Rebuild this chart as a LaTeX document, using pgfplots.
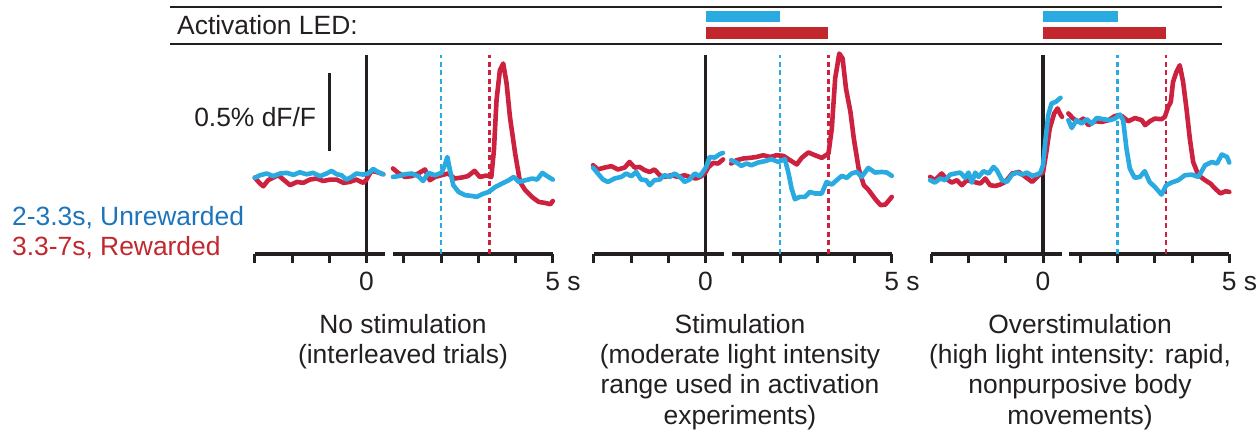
\documentclass[border=0pt]{standalone}
\usepackage{fontspec}
\setmainfont{Liberation Sans}
\usepackage{pgfplots}
\pgfplotsset{compat=1.18}
\definecolor{cblue}{HTML}{29ABE2}
\definecolor{cred}{HTML}{CC2240}
\definecolor{tblue}{HTML}{1C75BC}
\definecolor{tred}{HTML}{C1272D}
\definecolor{barred}{HTML}{C1272D}
\definecolor{axc}{HTML}{231F20}
\newcommand{\fs}{\fontsize{26.5}{30}\selectfont}
\pgfplotsset{
  panel/.style={x=37.25bp, y=156bp, ymin=-0.505, ymax=0.79,
    axis x line*=bottom, axis y line=none, clip=false,
    tick align=outside, major tick length=9bp,
    xtick style={line width=3bp, color=axc},
    axis line style={line width=3.2bp, color=axc},
    anchor=south west, ytick=\empty,
    xticklabel style={font=\fs, text=axc, inner sep=0pt, yshift=-9bp},
  },
  lefts/.style={panel, xmin=-3, xmax=0.5, xtick={-3,-2,-1,0}, xticklabels={,,,0}},
  rights/.style={panel, xmin=0.7, xmax=5, xtick={1,2,3,4,5}, xticklabels={,,,,5\rlap{ s}}},
  tr/.style={line width=4.6bp, line join=round, line cap=round},
  rtr/.style={tr, color=cred},
  btr/.style={tr, color=cblue},
  zline/.style={line width=3.2bp, color=axc},
  bdash/.style={line width=2.4bp, color=cblue, dash pattern=on 5bp off 3.5bp},
  rdash/.style={line width=2.4bp, color=cred, dash pattern=on 5bp off 3.5bp},
}
\begin{document}
\begin{tikzpicture}
\path[use as bounding box] (0bp,0bp) rectangle (1260bp,436bp);
% header
\draw[line width=2.4bp, color=axc] (170bp,429bp) -- (1222bp,429bp);
\draw[line width=2.4bp, color=axc] (170bp,392bp) -- (1222bp,392bp);
\node[anchor=base west, inner sep=0pt, font=\fs, text=axc] at (177bp,401.5bp) {Activation LED:};
% legend text
\node[anchor=base west, inner sep=0pt, font=\fs, text=tblue] at (12bp,210.5bp) {2-3.3s, Unrewarded};
\node[anchor=base west, inner sep=0pt, font=\fs, text=tred] at (12bp,180.5bp) {3.3-7s, Rewarded};

%%%%%%%% Panel 1
\begin{axis}[lefts, at={(254.75bp,182bp)}]
\addplot[zline] coordinates {(0,-0.505) (0,0.77)};
\addplot[line width=3bp, color=axc] coordinates {(-1,0.154) (-1,0.654)};
\node[anchor=base east, inner sep=0pt, font=\fs, text=axc, xshift=-13bp] at (axis cs:-1,0.311) {0.5\% dF/F};
\addplot[rtr] coordinates {(-3.0,-0.015) (-2.86,-0.053) (-2.77,-0.071) (-2.64,-0.032) (-2.50,-0.015) (-2.37,0) (-2.23,-0.028) (-2.05,-0.064) (-1.87,-0.043) (-1.70,-0.049) (-1.52,-0.028) (-1.34,-0.021) (-1.16,-0.037) (-0.98,-0.028) (-0.80,-0.028) (-0.62,-0.049) (-0.45,-0.043) (-0.27,-0.028) (-0.09,-0.049) (0.0,-0.028) (0.13,0.028) (0.27,0.021) (0.45,0.006)};
\addplot[btr] coordinates {(-3.0,-0.017) (-2.86,0) (-2.68,0.011) (-2.50,-0.006) (-2.32,0.011) (-2.14,0.015) (-1.96,0.002) (-1.79,0.019) (-1.61,0.006) (-1.43,0.015) (-1.25,-0.006) (-1.07,0.011) (-0.94,0.028) (-0.80,0.006) (-0.67,0) (-0.54,-0.028) (-0.40,-0.011) (-0.27,0.011) (-0.09,0.004) (0.04,0.011) (0.18,0.040) (0.31,0.021) (0.45,0.006)};
\end{axis}
\begin{axis}[rights, at={(392.6bp,182bp)}]
\addplot[bdash] coordinates {(2,-0.505) (2,0.77)};
\addplot[rdash] coordinates {(3.3,-0.505) (3.3,0.77)};
\addplot[rtr] coordinates {(0.71,0.043) (0.85,0.015) (1.03,-0.011) (1.21,-0.006) (1.39,0.011) (1.57,0.037) (1.70,-0.032) (1.84,-0.011) (2.01,0) (2.19,0.011) (2.37,-0.021) (2.55,-0.015) (2.72,-0.006) (2.90,0.028) (3.04,-0.011) (3.22,-0.002) (3.35,-0.011) (3.42,0.160) (3.49,0.481) (3.58,0.673) (3.67,0.716) (3.76,0.588) (3.85,0.374) (3.99,0.139) (4.12,-0.043) (4.26,-0.096) (4.44,-0.139) (4.62,-0.171) (4.80,-0.178) (4.94,-0.186) (5.0,-0.165)};
\addplot[btr] coordinates {(0.71,-0.011) (0.85,-0.006) (1.03,0.006) (1.21,0.011) (1.39,-0.006) (1.52,-0.037) (1.66,0.015) (1.84,0) (2.01,0.015) (2.10,0.064) (2.17,0.117) (2.24,0.032) (2.33,-0.064) (2.47,-0.107) (2.65,-0.128) (2.83,-0.133) (2.96,-0.139) (3.10,-0.122) (3.28,-0.107) (3.46,-0.075) (3.64,-0.053) (3.82,-0.032) (3.95,-0.011) (4.09,-0.043) (4.27,-0.032) (4.45,-0.021) (4.58,-0.028) (4.72,0.015) (4.85,-0.006) (5.0,-0.028)};
\end{axis}

%%%%%%%% Panel 2
\begin{axis}[lefts, at={(593.75bp,182bp)}]
\addplot[zline] coordinates {(0,-0.505) (0,0.77)};
\addplot[rtr] coordinates {(-3.02,0.064) (-2.89,0.037) (-2.71,0.049) (-2.53,0.058) (-2.35,0.037) (-2.17,0.049) (-2.04,0.085) (-1.90,0.049) (-1.77,0.053) (-1.63,0.032) (-1.50,0.021) (-1.37,0.037) (-1.23,0) (-1.10,-0.011) (-0.92,0) (-0.74,-0.011) (-0.56,0) (-0.38,-0.015) (-0.25,-0.021) (-0.11,-0.006) (-0.02,0.011) (0.07,0.049) (0.20,0.079) (0.34,0.075) (0.47,0.101)};
\addplot[btr] coordinates {(-3.02,0.049) (-2.89,0.011) (-2.75,-0.028) (-2.62,-0.043) (-2.44,-0.021) (-2.26,-0.011) (-2.13,0.011) (-1.99,-0.006) (-1.86,0.021) (-1.73,-0.028) (-1.59,-0.032) (-1.50,-0.064) (-1.37,-0.032) (-1.23,-0.028) (-1.10,0) (-0.96,-0.011) (-0.83,0.011) (-0.69,-0.011) (-0.56,-0.043) (-0.43,-0.028) (-0.29,0.011) (-0.16,-0.006) (-0.07,0.021) (0.02,0.053) (0.11,0.117) (0.25,0.113) (0.38,0.135) (0.47,0.143)};
\end{axis}
\begin{axis}[rights, at={(731.6bp,182bp)}]
\addplot[color=cblue, line width=11bp] coordinates {(0,1.016) (2,1.016)};
\addplot[color=barred, line width=12bp] coordinates {(0,0.910) (3.3,0.910)};
\addplot[bdash] coordinates {(2,-0.505) (2,0.77)};
\addplot[rdash] coordinates {(3.3,-0.505) (3.3,0.77)};
\addplot[rtr] coordinates {(0.69,0.075) (0.83,0.096) (1.01,0.107) (1.19,0.111) (1.37,0.117) (1.55,0.128) (1.73,0.117) (1.91,0.128) (2.09,0.124) (2.27,0.096) (2.45,0.069) (2.58,0.111) (2.76,0.146) (2.94,0.128) (3.12,0.111) (3.30,0.139) (3.39,0.299) (3.48,0.620) (3.59,0.780) (3.68,0.748) (3.77,0.556) (3.89,0.406) (3.98,0.236) (4.11,0.043) (4.25,-0.064) (4.38,-0.096) (4.56,-0.154) (4.70,-0.192) (4.83,-0.188) (5.0,-0.139)};
\addplot[btr] coordinates {(0.69,0.096) (0.83,0.081) (0.96,0.060) (1.10,0.075) (1.23,0.064) (1.41,0.081) (1.59,0.090) (1.77,0.103) (1.95,0.085) (2.13,0.103) (2.22,0.021) (2.31,-0.085) (2.40,-0.154) (2.53,-0.139) (2.67,-0.139) (2.80,-0.107) (2.94,-0.117) (3.12,-0.117) (3.25,-0.043) (3.39,-0.060) (3.52,-0.032) (3.66,-0.004) (3.79,-0.017) (3.92,0.011) (4.06,0.021) (4.19,-0.011) (4.37,0.047) (4.55,0.017) (4.73,0.021) (4.87,0.017) (5.0,-0.004)};
\end{axis}

%%%%%%%% Panel 3
\begin{axis}[lefts, at={(931.25bp,182bp)}]
\addplot[zline] coordinates {(0,-0.505) (0,0.77)};
\addplot[rtr] coordinates {(-3.03,-0.011) (-2.90,-0.032) (-2.72,0.011) (-2.58,-0.026) (-2.45,-0.047) (-2.31,-0.032) (-2.18,-0.064) (-2.04,-0.032) (-1.86,-0.043) (-1.68,-0.053) (-1.55,-0.021) (-1.42,-0.064) (-1.28,-0.069) (-1.15,-0.060) (-1.01,-0.043) (-0.83,0.011) (-0.65,0.021) (-0.47,-0.011) (-0.29,-0.043) (-0.11,0) (0.0,0.017) (0.09,0.149) (0.18,0.299) (0.30,0.396) (0.39,0.428) (0.47,0.389) (0.51,0.374)};
\addplot[btr] coordinates {(-3.03,-0.032) (-2.90,-0.047) (-2.76,-0.021) (-2.63,-0.032) (-2.49,0.004) (-2.36,0.011) (-2.22,0.017) (-2.09,-0.017) (-2.00,0.017) (-1.91,-0.047) (-1.82,0.017) (-1.73,-0.011) (-1.60,0.026) (-1.46,0.011) (-1.33,0.053) (-1.24,0.032) (-1.10,-0.032) (-0.97,-0.043) (-0.83,0.004) (-0.70,0.017) (-0.56,0.004) (-0.43,0.017) (-0.29,-0.004) (-0.16,0.004) (-0.07,0.017) (0.0,0.064) (0.07,0.235) (0.14,0.385) (0.23,0.460) (0.34,0.470) (0.47,0.496)};
\end{axis}
\begin{axis}[rights, at={(1069.1bp,182bp)}]
\addplot[color=cblue, line width=11bp] coordinates {(0,1.016) (2,1.016)};
\addplot[color=barred, line width=12bp] coordinates {(0,0.910) (3.3,0.910)};
\addplot[bdash] coordinates {(2,-0.505) (2,0.77)};
\addplot[rdash] coordinates {(3.3,-0.505) (3.3,0.77)};
\addplot[rtr] coordinates {(0.68,0.396) (0.81,0.363) (0.95,0.342) (1.08,0.363) (1.22,0.321) (1.40,0.346) (1.58,0.342) (1.76,0.353) (1.93,0.380) (2.11,0.380) (2.29,0.346) (2.47,0.367) (2.65,0.353) (2.74,0.321) (2.87,0.346) (3.00,0.363) (3.18,0.359) (3.27,0.374) (3.36,0.438) (3.43,0.470) (3.49,0.598) (3.58,0.662) (3.67,0.705) (3.76,0.598) (3.85,0.428) (3.94,0.235) (4.03,0.085) (4.17,0) (4.35,-0.032) (4.49,-0.053) (4.62,-0.085) (4.76,-0.117) (4.90,-0.103) (5.0,-0.107)};
\addplot[btr] coordinates {(0.68,0.353) (0.77,0.303) (0.90,0.353) (1.04,0.331) (1.17,0.359) (1.31,0.331) (1.44,0.367) (1.62,0.359) (1.80,0.353) (1.93,0.363) (2.06,0.389) (2.15,0.353) (2.24,0.171) (2.33,0.043) (2.46,-0.017) (2.60,-0.011) (2.73,0.026) (2.86,-0.043) (3.00,-0.075) (3.18,-0.124) (3.31,-0.064) (3.45,-0.047) (3.63,-0.032) (3.81,0) (3.99,0.004) (4.17,-0.011) (4.35,0.064) (4.53,0.085) (4.67,0.075) (4.80,0.133) (4.94,0.117) (5.0,0.081)};
\end{axis}

% titles
\begin{scope}[every node/.style={anchor=base, inner sep=0pt, font=\fs, text=axc}]
\node at (403bp,102bp) {No stimulation};
\node at (403bp,72bp) {(interleaved trials)};
\node at (740bp,102bp) {Stimulation};
\node at (740bp,72bp) {(moderate light intensity};
\node at (740bp,42bp) {range used in activation};
\node at (740bp,12bp) {experiments)};
\node at (1080bp,102bp) {Overstimulation};
\node at (1080bp,72bp) {(high light intensity: rapid,};
\node at (1080bp,42bp) {nonpurposive body};
\node at (1080bp,12bp) {movements)};
\end{scope}
\end{tikzpicture}
\end{document}
